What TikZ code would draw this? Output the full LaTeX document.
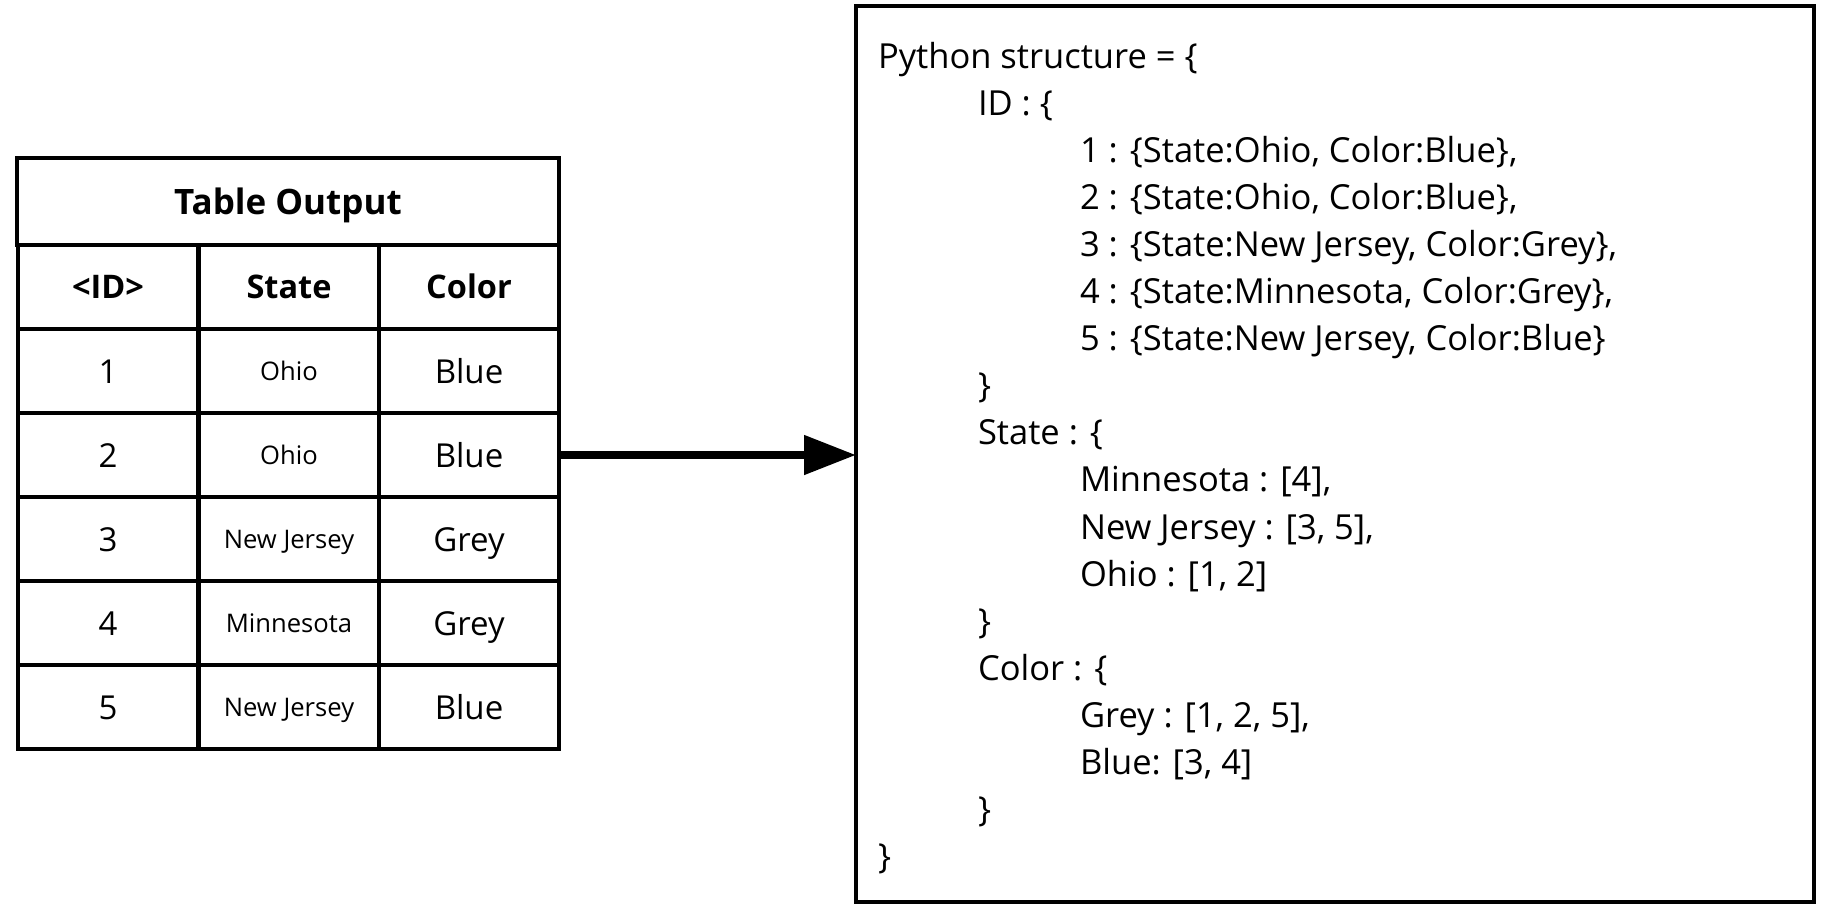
\documentclass[tikz,border=0pt]{standalone}
\usepackage{fontspec}
\setmainfont{Open Sans}
\usetikzlibrary{arrows.meta}
\newcommand{\pyfs}{\fontsize{34.5}{40}\selectfont}
\newcommand{\titlefs}{\fontsize{35}{42}\bfseries\selectfont}
\newcommand{\headfs}{\fontsize{32.5}{38}\bfseries\selectfont}
\newcommand{\cellfs}{\fontsize{33}{38}\selectfont}
\newcommand{\smallfs}{\fontsize{25.6}{30}\selectfont}
\begin{document}
\begin{tikzpicture}[x=1pt,y=-1pt,
  cell/.style={draw, line width=4pt, inner sep=0pt, outer sep=0pt, minimum height=84pt, minimum width=180pt},
  txt/.style={inner sep=0pt, outer sep=0pt, anchor=base},
  pyline/.style={inner sep=0pt, outer sep=0pt, anchor=base west, font=\pyfs},
  conn/.style={line width=8pt, -{Triangle[length=52pt,width=38pt]}}]
\useasboundingbox (0,0) rectangle (1832,922);
% table
\node[cell, minimum width=542pt, minimum height=87pt] (title) at (288,201.5) {};
\foreach \c/\x in {1/108,2/289,3/469}{
  \foreach \r/\y in {0/287,1/371,2/455,3/539,4/623,5/707}{
    \node[cell] (c\r\c) at (\x,\y) {};
  }
}
\node[txt, font=\titlefs] (ttitle) at (288,214) {Table Output};
\node[txt, font=\headfs] (h1) at (108,298.5) {<ID>};
\node[txt, font=\headfs] (h2) at (289,298.5) {State};
\node[txt, font=\headfs] (h3) at (469,298.5) {Color};
\foreach \r/\y/\s/\col in {1/371/Ohio/Blue,2/455/Ohio/Blue,3/539/New Jersey/Grey,4/623/Minnesota/Grey,5/707/New Jersey/Blue}{
  \node[txt, font=\cellfs] (n\r) at (108,\y+12) {\r};
  \node[txt, font=\smallfs] (s\r) at (289,\y+9) {\s};
  \node[txt, font=\cellfs] (k\r) at (469,\y+12) {\col};
}
% structure box
\node[draw, line width=4pt, inner sep=0pt, outer sep=0pt, minimum width=958pt, minimum height=896pt] (box) at (1335,454) {};
\draw[conn] (c23.east) -- (c23.east -| box.west);
% text lines
\node[pyline] (l0) at (878,68) {Python structure = \{};
\node[pyline] (l1) at (978,115.1) {ID : \{};
\node[pyline] (l2) at (1080,162.2) {1 : \{State:Ohio, Color:Blue\},};
\node[pyline] (l3) at (1080,209.3) {2 : \{State:Ohio, Color:Blue\},};
\node[pyline] (l4) at (1080,256.4) {3 : \{State:New Jersey, Color:Grey\},};
\node[pyline] (l5) at (1080,303.5) {4 : \{State:Minnesota, Color:Grey\},};
\node[pyline] (l6) at (1080,350.6) {5 : \{State:New Jersey, Color:Blue\}};
\node[pyline] (l7) at (978,397.7) {\}};
\node[pyline] (l8) at (978,444.8) {State : \{};
\node[pyline] (l9) at (1080,491.9) {Minnesota : [4],};
\node[pyline] (l10) at (1080,539) {New Jersey : [3, 5],};
\node[pyline] (l11) at (1080,586.1) {Ohio : [1, 2]};
\node[pyline] (l12) at (978,633.2) {\}};
\node[pyline] (l13) at (978,680.3) {Color : \{};
\node[pyline] (l14) at (1080,727.4) {Grey : [1, 2, 5],};
\node[pyline] (l15) at (1080,774.5) {Blue: [3, 4]};
\node[pyline] (l16) at (978,821.6) {\}};
\node[pyline] (l17) at (878,868.7) {\}};
\end{tikzpicture}
\end{document}
